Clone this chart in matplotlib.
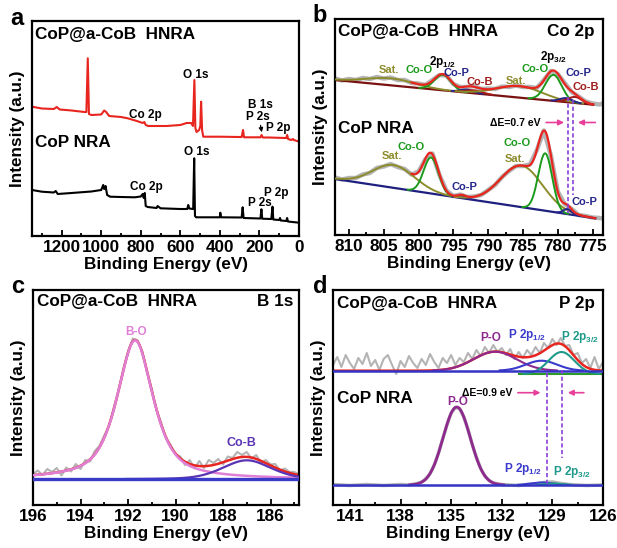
import numpy as np
import matplotlib
matplotlib.use("Agg")
import matplotlib.pyplot as plt
from matplotlib.ticker import MultipleLocator

plt.rcParams['font.family'] = ['Liberation Sans', 'DejaVu Sans']
plt.rcParams['font.weight'] = 'bold'
plt.rcParams['mathtext.fontset'] = 'custom'
plt.rcParams['mathtext.bf'] = 'Liberation Sans:bold'
plt.rcParams['mathtext.rm'] = 'Liberation Sans:bold'
plt.rcParams['mathtext.default'] = 'bf'

# ---------------- Panel a: survey spectra ----------------
SURVEY_HNRA_E = [1350, 1300, 1240, 1225, 1210, 1150, 1085, 1075, 1068, 1062, 1050, 1000, 985, 975, 960,
                 900, 866, 820, 790, 782, 775, 762, 720, 670, 600, 568, 545, 536, 529, 524, 518, 505, 499,
                 495, 490, 484, 400, 300, 290, 283, 278, 260, 195, 189, 183, 150, 70, 64, 60, 55, 40, 30,
                 26, 10, 0]
SURVEY_HNRA_I = [129.3, 127.5, 127, 129, 126.5, 125.5, 124, 124, 177.7, 122, 121, 121.5, 125.5, 124, 120,
                 119, 117.7, 115, 113, 114, 111, 110, 110, 110, 111, 113, 113, 110, 156, 108, 104, 106, 110,
                 134.3, 106, 99.3, 99.3, 99, 99, 106, 98.7, 98.7, 98.7, 101, 98.5, 98.5, 98, 98, 101, 97, 96,
                 97, 96, 95, 94.3]
SURVEY_NRA_E = [1350, 1300, 1240, 1230, 1220, 1150, 1050, 1000, 990, 985, 978, 970, 955, 900, 830, 800, 790,
                785, 780, 775, 765, 720, 715, 700, 600, 565, 560, 555, 535, 530, 526, 520, 400, 398, 394,
                290, 285, 280, 195, 190, 186, 140, 134, 130, 100, 96, 92, 64, 60, 56, 0]
SURVEY_NRA_I = [46, 44.3, 43.5, 45, 42, 43, 44.5, 46, 51, 47, 50, 41, 39.3, 39, 38.7, 39.5, 42, 38, 43, 30,
                29, 28, 30, 27.7, 27, 27, 31, 27.5, 27, 77.7, 20, 18.7, 18.7, 23.3, 18.7, 18.5, 28.7, 18,
                17.5, 26.7, 17.3, 17, 29.3, 16.5, 16, 18, 15.5, 15, 18, 14.5, 13.3]

# ---------------- Panel b: Co 2p ----------------
CO2P_E = [812, 811, 810, 809, 808, 807, 806, 805, 804, 803, 802, 801, 800, 799, 798, 797, 796, 795, 794, 793,
          792, 791, 790, 789, 788, 787, 786, 785, 784, 783, 782, 781, 780, 779, 778, 777, 776, 775, 774, 773.5]
CO2P_HNRA_RAW = [156.5, 154.5, 156.0, 155.0, 157.0, 156.0, 158.0, 156.5, 157.5, 155.0,
                 155.0, 152.0, 151.5, 150.0, 155.0, 160.0, 159.5, 151.0, 148.0, 148.0,
                 149.0, 146.0, 146.5, 146.0, 148.5, 148.0, 149.5, 148.0, 148.0, 147.0,
                 155.0, 164.0, 161.0, 152.0, 143.0, 138.5, 133.5, 131.5, 130.5, 131.5]
CO2P_NRA_RAW = [57.5, 55.5, 57.0, 57.0, 60.5, 62.0, 67.0, 68.5, 71.0, 68.0,
                66.0, 60.5, 63.5, 76.0, 81.5, 60.0, 44.5, 39.0, 40.5, 38.0,
                38.5, 40.0, 45.0, 50.0, 58.0, 64.0, 69.0, 69.0, 70.5, 85.0,
                104.5, 80.0, 43.5, 31.0, 26.0, 20.0, 19.0, 17.5, 17.0, 16.5]
CO2P_HNRA_BG_E = [812, 774.9]
CO2P_HNRA_BG_I = [155.0, 130.3]
CO2P_NRA_BG_E = [812, 774.6]
CO2P_NRA_BG_I = [56.0, 16.7]
# fitted components: species, centre (eV), height, FWHM (eV)
CO2P_HNRA_SPECIES = ['Sat.', 'Co-O', 'Co-P', 'Co-B', 'Sat.', 'Co-O', 'Co-P', 'Co-B']
CO2P_HNRA_CENTER = [804.0, 796.5, 793.0, 792.0, 785.5, 780.6, 778.8, 777.5]
CO2P_HNRA_HEIGHT = [7.0, 15.5, 3.0, 3.0, 11.5, 26.0, 4.0, 6.0]
CO2P_HNRA_FWHM = [8.2, 2.8, 2.35, 2.8, 7.8, 2.8, 2.1, 2.35]
CO2P_NRA_SPECIES = ['Sat.', 'Co-O', 'Co-P', 'Sat.', 'Co-O', 'Co-P']
CO2P_NRA_CENTER = [803.6, 798.2, 793.8, 785.2, 781.8, 778.6]
CO2P_NRA_HEIGHT = [22.8, 36.0, 2.5, 41.5, 57.4, 5.0]
CO2P_NRA_FWHM = [7.1, 2.5, 1.4, 7.1, 2.35, 1.4]

# ---------------- Panel c: B 1s ----------------
B1S_E = [196.0, 195.8, 195.6, 195.4, 195.2, 195.0, 194.8, 194.6, 194.4, 194.2,
         194.0, 193.8, 193.6, 193.4, 193.2, 193.0, 192.8, 192.6, 192.4, 192.2,
         192.0, 191.8, 191.6, 191.4, 191.2, 191.0, 190.8, 190.6, 190.4, 190.2,
         190.0, 189.8, 189.6, 189.4, 189.2, 189.0, 188.8, 188.6, 188.4, 188.2,
         188.0, 187.8, 187.6, 187.4, 187.2, 187.0, 186.8, 186.6, 186.4, 186.2,
         186.0, 185.8, 185.6, 185.4, 185.2, 185.0, 184.8]
B1S_RAW = [31, 34.5, 30, 36, 33, 37, 29.5, 37.5, 33.5, 41,
           36, 45, 43.5, 54, 59, 69.5, 79, 97.5, 115, 136,
           153.5, 166.5, 164.5, 154, 133, 116.5, 94.5, 82, 66.5, 60,
           50.5, 48.5, 40, 45, 36.5, 44, 37, 45, 42, 46,
           40.5, 48.5, 47, 53, 50, 53, 46.5, 50, 42, 45,
           40.5, 41, 34.5, 36.5, 33, 33, 31]
B1S_BG = 25.7
B1S_SPECIES = ['B-O', 'Co-B']
B1S_CENTER = [191.7, 187.0]
B1S_HEIGHT = [139.0, 19.0]
B1S_FWHM = [1.8, 2.4]
B1S_LORENTZ_FRAC = [0.7, 0.3]

# ---------------- Panel d: P 2p ----------------
P2P_TOP_E = [142.0, 141.75, 141.5, 141.25, 141.0, 140.75, 140.5, 140.25, 140.0, 139.75,
             139.5, 139.25, 139.0, 138.75, 138.5, 138.25, 138.0, 137.75, 137.5, 137.25,
             137.0, 136.75, 136.5, 136.25, 136.0, 135.75, 135.5, 135.25, 135.0, 134.75,
             134.5, 134.25, 134.0, 133.75, 133.5, 133.25, 133.0, 132.75, 132.5, 132.25,
             132.0, 131.75, 131.5, 131.25, 131.0, 130.75, 130.5, 130.25, 130.0, 129.75,
             129.5, 129.25, 129.0, 128.75, 128.5, 128.25, 128.0, 127.75, 127.5, 127.25,
             127.0, 126.75, 126.5, 126.25, 126.0]
P2P_TOP_RAW = [140, 148, 138, 150, 142, 136, 147, 141, 152, 139,
               145, 135, 146, 150, 140, 131, 144, 138, 149, 142,
               137, 146, 140, 151, 143, 137, 147, 142, 150, 140,
               147, 143, 152, 146, 155, 149, 158, 152, 160, 153,
               157, 150, 156, 146, 153, 147, 155, 150, 158, 152,
               162, 157, 166, 160, 167, 159, 160, 150, 152, 142,
               146, 137, 148, 136, 143]
P2P_BOT_E = [142, 141, 140, 139, 138, 137.5, 137, 136.75, 136.5, 136.25, 136, 135.75, 135.5, 135.25, 135,
             134.75, 134.5, 134.25, 134, 133.75, 133.5, 133.25, 133, 132.75, 132.5, 132, 131, 130.5, 130,
             129.5, 129, 128.5, 128, 127, 126]
P2P_BOT_RAW = [20.5, 19.5, 20.5, 19.5, 20.5, 20, 21.5, 23, 26, 31.5, 40, 52, 66, 80, 92,
               97.5, 96.5, 88, 75.5, 60.5, 47.5, 36.5, 29, 24.5, 22, 20.5, 19.5, 20.5, 21,
               22.5, 23, 21.5, 20.5, 19.5, 20]
P2P_TOP_BG = 134.3
P2P_TOP_P32_BG = 131.0
P2P_BOT_BG = 20.0
P2P_SPECIES = ['P-O', 'P 2p1/2', 'P 2p3/2']
P2P_TOP_CENTER = [132.4, 129.65, 128.46]
P2P_TOP_HEIGHT = [19.0, 10.0, 22.0]
P2P_TOP_FWHM = [3.0, 2.2, 1.8]
P2P_BOT_CENTER = [134.67, 129.6, 128.9]
P2P_BOT_HEIGHT = [78.0, 2.5, 1.5]
P2P_BOT_FWHM = [1.9, 1.5, 1.2]


def pv(x, c, h, w, eta=0.0):
    t = (x - c) / w
    g = np.exp(-4 * np.log(2) * t ** 2)
    lo = 1.0 / (1.0 + 4 * t ** 2)
    return h * ((1 - eta) * g + eta * lo)


W, H = 617, 548
fig = plt.figure(figsize=(W / 100, H / 100), dpi=100)


def make_ax(x0, y0, x1, y1):
    return fig.add_axes([x0 / W, 1 - y1 / H, (x1 - x0) / W, (y1 - y0) / H])


def style(ax, xlim, major, minor, ylim):
    ax.set_xlim(*xlim)
    ax.set_ylim(*ylim)
    ax.xaxis.set_major_locator(MultipleLocator(major))
    ax.xaxis.set_minor_locator(MultipleLocator(minor))
    ax.set_yticks([])
    ax.tick_params(axis='x', which='both', direction='in', top=False, labelsize=12.3, pad=3, width=1.3)
    ax.tick_params(axis='x', which='major', length=4.5)
    ax.tick_params(axis='x', which='minor', length=2.5)
    for s in ax.spines.values():
        s.set_linewidth(1.6)
    ax.set_xlabel('Binding Energy (eV)', fontsize=12.3, fontweight='bold', labelpad=1)
    ax.set_ylabel('Intensity (a.u.)', fontsize=12.3, fontweight='bold', labelpad=5)


RED = '#e8251f'
GRAY = '#b4b4b4'
MAG = '#e8409a'
VIOLET = '#8a40d8'

# ======== panel a ========
axa = make_ax(32, 21, 299, 236)
axa.plot(SURVEY_HNRA_E, SURVEY_HNRA_I, color=RED, lw=1.5)
axa.plot(SURVEY_NRA_E, SURVEY_NRA_I, color='black', lw=1.5)
style(axa, (1350, 0), 200, 100, (0, 215))
axa.text(0.011, 0.935, 'CoP@a-CoB  HNRA', transform=axa.transAxes, fontsize=12.3, va='center', ha='left')
axa.text(0.011, 0.437, 'CoP NRA', transform=axa.transAxes, fontsize=12.3, va='center', ha='left')
fs_a = 8.5
axa.text(521.7, 161, 'O 1s', fontsize=fs_a, ha='center', va='center')
axa.text(778.6, 121, 'Co 2p', fontsize=fs_a, ha='center', va='center')
axa.text(197.2, 130.8, 'B 1s', fontsize=fs_a, ha='center', va='center')
axa.text(205.8, 118.6, 'P 2s', fontsize=fs_a, ha='center', va='center')
axa.text(104.6, 107.7, 'P 2p', fontsize=fs_a, ha='center', va='center')
axa.annotate('', xy=(185.5, 101), xytext=(197.2, 113.3),
             arrowprops=dict(arrowstyle='-|>', color='black', lw=0.9, mutation_scale=6))
axa.text(517, 83.7, 'O 1s', fontsize=fs_a, ha='center', va='center')
axa.text(770, 48.7, 'Co 2p', fontsize=fs_a, ha='center', va='center')
axa.text(112.7, 43.3, 'P 2p', fontsize=fs_a, ha='center', va='center')
axa.text(197.2, 32.7, 'P 2s', fontsize=fs_a, ha='center', va='center')

# ======== panel b ========
axb = make_ax(335, 19, 603, 235)
COLB = {'Sat.': '#8c8c2c', 'Co-O': '#1c9a1c', 'Co-P': '#25258c', 'Co-B': '#a01c1c'}
Ef = np.linspace(773.5, 812, 1200)
axb.plot(CO2P_E, CO2P_HNRA_RAW, color=GRAY, lw=3.2, zorder=1)
axb.plot(CO2P_E, CO2P_NRA_RAW, color=GRAY, lw=3.2, zorder=1)
for bgE, bgI, sp, cen, hei, fw, bgc in [
        (CO2P_HNRA_BG_E, CO2P_HNRA_BG_I, CO2P_HNRA_SPECIES, CO2P_HNRA_CENTER, CO2P_HNRA_HEIGHT, CO2P_HNRA_FWHM, '#7a1212'),
        (CO2P_NRA_BG_E, CO2P_NRA_BG_I, CO2P_NRA_SPECIES, CO2P_NRA_CENTER, CO2P_NRA_HEIGHT, CO2P_NRA_FWHM, '#1f1f80')]:
    Eb = Ef[(Ef <= bgE[0]) & (Ef >= bgE[1])]
    bg = np.interp(Eb, bgE[::-1], bgI[::-1])
    total = np.zeros_like(Eb)
    for s, c, h, w in zip(sp, cen, hei, fw):
        comp = pv(Eb, c, h, w)
        total += comp
        y = np.where(comp > 0.25, bg + comp, np.nan)
        axb.plot(Eb, y, color=COLB[s], lw=1.4, zorder=3)
    axb.plot(Eb, bg, color=bgc, lw=1.6, zorder=2)
    m = Eb <= 801
    axb.plot(Eb[m], (bg + total)[m], color=RED, lw=1.6, zorder=4)
style(axb, (812, 773.5), 5, 2.5, (0, 216))
axb.text(0.011, 0.944, 'CoP@a-CoB  HNRA', transform=axb.transAxes, fontsize=12.3, va='center', ha='left')
axb.text(0.970, 0.944, 'Co 2p', transform=axb.transAxes, fontsize=12.3, va='center', ha='right')
axb.text(0.011, 0.494, 'CoP NRA', transform=axb.transAxes, fontsize=12.3, va='center', ha='left')
fs_b = 8
for (x, y, s) in [(804.2, 165, 'Sat.'), (799.9, 165, 'Co-O'), (794.6, 162.3, 'Co-P'), (791.2, 153.3, 'Co-B'),
                  (786.0, 154.5, 'Sat.'), (783.3, 165.5, 'Co-O'), (777.0, 161.7, 'Co-P'), (776.0, 147.7, 'Co-B'),
                  (801.0, 88.3, 'Co-O'), (803.85, 79, 'Sat.'), (793.45, 48.3, 'Co-P'),
                  (785.9, 92.3, 'Co-O'), (786.1, 75.7, 'Sat.'), (776.1, 33.3, 'Co-P')]:
    axb.text(x, y, s, color=COLB[s], fontsize=fs_b, ha='center', va='center', zorder=6)
axb.text(796.55, 173.3, r'2p$_{1/2}$', fontsize=8.5, ha='center', va='center')
axb.text(780.6, 178.0, r'2p$_{3/2}$', fontsize=8.5, ha='center', va='center')
axb.text(786.1, 112.3, 'ΔE=0.7 eV', fontsize=7.5, ha='center', va='center')
axb.annotate('', xy=(778.7, 112.5), xytext=(782.07, 112.5),
             arrowprops=dict(arrowstyle='-|>', color=MAG, lw=1.2, mutation_scale=8))
axb.annotate('', xy=(777.5, 112.5), xytext=(774.2, 112.5),
             arrowprops=dict(arrowstyle='-|>', color=MAG, lw=1.2, mutation_scale=8))
axb.plot([778.48, 778.48], [138, 21.7], color=VIOLET, lw=1.2, ls=(0, (2.5, 1.5)), zorder=5)
axb.plot([777.76, 777.76], [135, 40], color=VIOLET, lw=1.2, ls=(0, (2.5, 1.5)), zorder=5)

# ======== panel c ========
axc = make_ax(33, 290, 299, 505)
Ec = np.linspace(184.8, 196, 800)
bo = pv(Ec, B1S_CENTER[0], B1S_HEIGHT[0], B1S_FWHM[0], B1S_LORENTZ_FRAC[0])
cob = pv(Ec, B1S_CENTER[1], B1S_HEIGHT[1], B1S_FWHM[1], B1S_LORENTZ_FRAC[1])
axc.plot(B1S_E, B1S_RAW, color=GRAY, lw=1.5, zorder=1)
axc.plot(Ec, B1S_BG + bo + cob, color=RED, lw=1.8, zorder=2)
axc.plot(Ec, B1S_BG + bo, color='#e07fd6', lw=1.8, zorder=3)
axc.plot(Ec, np.where(cob > 0.3, B1S_BG + cob, np.nan), color='#5a34b4', lw=1.6, zorder=3)
axc.plot([184.8, 196], [B1S_BG, B1S_BG], color='#3a3ac8', lw=2.4, zorder=4)
style(axc, (196, 184.8), 2, 1, (0, 215))
axc.text(0.014, 0.946, 'CoP@a-CoB  HNRA', transform=axc.transAxes, fontsize=12.3, va='center', ha='left')
axc.text(0.979, 0.946, 'B 1s', transform=axc.transAxes, fontsize=12.3, va='center', ha='right')
axc.text(191.67, 173.3, B1S_SPECIES[0], color='#e07fd6', fontsize=8.5, ha='center', va='center')
axc.text(187.24, 61.7, B1S_SPECIES[1], color='#5a34b4', fontsize=9, ha='center', va='center')

# ======== panel d ========
axd = make_ax(333, 290, 603, 505)
COLD = {'P-O': '#8e2a8e', 'P 2p1/2': '#3a3acc', 'P 2p3/2': '#1e9a8a'}
Ed = np.linspace(126, 142, 1000)
axd.plot(P2P_TOP_E, P2P_TOP_RAW, color=GRAY, lw=1.5, zorder=1)
axd.plot(P2P_BOT_E, P2P_BOT_RAW, color=GRAY, lw=2.5, zorder=1)
tops = [pv(Ed, c, h, w) for c, h, w in zip(P2P_TOP_CENTER, P2P_TOP_HEIGHT, P2P_TOP_FWHM)]
axd.plot(Ed, P2P_TOP_BG + sum(tops), color=RED, lw=1.8, zorder=2)
axd.plot([131, 126], [P2P_TOP_P32_BG, P2P_TOP_P32_BG], color='#2a9a2a', lw=1.5, zorder=2)
for s, comp in zip(P2P_SPECIES, tops):
    base = P2P_TOP_P32_BG if s == 'P 2p3/2' else P2P_TOP_BG
    axd.plot(Ed, np.where(comp > 0.3, base + comp, np.nan), color=COLD[s], lw=1.5, zorder=3)
axd.plot([126, 142], [P2P_TOP_BG, P2P_TOP_BG], color='#3434c4', lw=1.8, zorder=4)
bots = [pv(Ed, c, h, w) for c, h, w in zip(P2P_BOT_CENTER, P2P_BOT_HEIGHT, P2P_BOT_FWHM)]
for s, comp in zip(P2P_SPECIES, bots):
    axd.plot(Ed, np.where(comp > 0.2, P2P_BOT_BG + comp, np.nan), color=COLD[s],
             lw=2.0 if s == 'P-O' else 1.5, zorder=3)
axd.plot([126, 142], [P2P_BOT_BG, P2P_BOT_BG], color='#3434c4', lw=1.8, zorder=4)
style(axd, (142, 126), 3, 1.5, (0, 215))
axd.text(0.014, 0.938, 'CoP@a-CoB  HNRA', transform=axd.transAxes, fontsize=12.3, va='center', ha='left')
axd.text(0.970, 0.938, 'P 2p', transform=axd.transAxes, fontsize=12.3, va='center', ha='right')
axd.text(0.014, 0.496, 'CoP NRA', transform=axd.transAxes, fontsize=12.3, va='center', ha='left')
axd.text(132.67, 166.7, 'P-O', color=COLD['P-O'], fontsize=8.5, ha='center', va='center')
axd.text(130.5, 170, r'P 2p$_{1/2}$', color=COLD['P 2p1/2'], fontsize=8.5, ha='center', va='center')
axd.text(127.34, 168.3, r'P 2p$_{3/2}$', color=COLD['P 2p3/2'], fontsize=8.5, ha='center', va='center')
axd.text(134.63, 103.3, 'P-O', color=COLD['P-O'], fontsize=8.5, ha='center', va='center')
axd.text(130.72, 35.7, r'P 2p$_{1/2}$', color=COLD['P 2p1/2'], fontsize=8.5, ha='center', va='center')
axd.text(127.86, 33.3, r'P 2p$_{3/2}$', color=COLD['P 2p3/2'], fontsize=8.5, ha='center', va='center')
axd.text(132.84, 112.3, 'ΔE=0.9 eV', fontsize=7.5, ha='center', va='center')
axd.annotate('', xy=(129.54, 112.3), xytext=(131.21, 112.3),
             arrowprops=dict(arrowstyle='-|>', color=MAG, lw=1.2, mutation_scale=8))
axd.annotate('', xy=(128.25, 112.3), xytext=(126.97, 112.3),
             arrowprops=dict(arrowstyle='-|>', color=MAG, lw=1.2, mutation_scale=8))
axd.plot([129.34, 129.34], [131.7, 20], color=VIOLET, lw=1.2, ls=(0, (2.5, 1.5)), zorder=5)
axd.plot([128.45, 128.45], [135, 46.7], color=VIOLET, lw=1.2, ls=(0, (2.5, 1.5)), zorder=5)

# panel letters
for lab, x, y in [('a', 16.7, 25), ('b', 320, 21.7), ('c', 17.5, 293.3), ('d', 320, 293.3)]:
    fig.text(x / W, 1 - y / H, lab, fontsize=17, fontweight='bold', ha='center', va='baseline')

fig.savefig('out.png', dpi=100)
